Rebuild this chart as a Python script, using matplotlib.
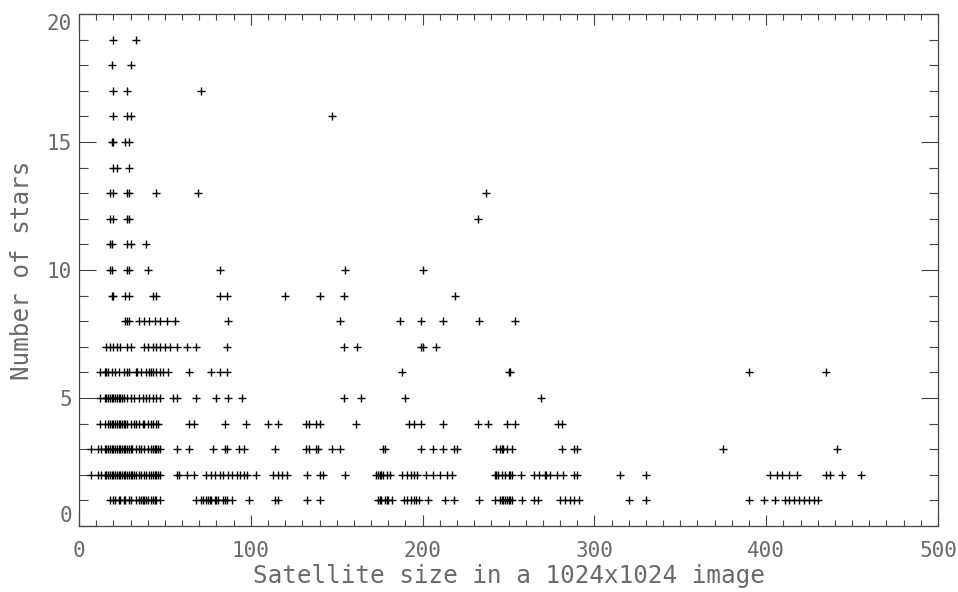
import matplotlib
matplotlib.use("Agg")
import matplotlib.pyplot as plt
import numpy as np

# satellite sizes (pixels) for each number of stars
sizes_n1 = [18, 20, 21, 23, 24, 26, 27, 29, 30, 33, 35, 36, 37, 38, 39, 40, 42, 43, 44,
            45, 47, 68, 71, 72, 74, 75, 76, 77, 79, 80, 81, 84, 85, 86, 89, 99, 114,
            116, 133, 140, 174, 175, 176, 178, 179, 180, 182, 189, 191, 193, 195, 196,
            198, 203, 213, 218, 233, 242, 245, 246, 247, 248, 249, 250, 251, 252, 258,
            265, 267, 280, 283, 286, 288, 291, 320, 330, 390, 399, 405, 411, 413, 416,
            419, 422, 425, 428, 430]
sizes_n2 = [7, 11, 13, 15, 16, 17, 18, 19, 20, 21, 22, 23, 24, 25, 26, 27, 28, 29, 30,
            31, 32, 33, 35, 36, 38, 39, 41, 42, 43, 44, 45, 46, 47, 57, 58, 63, 67,
            74, 77, 79, 82, 84, 87, 89, 92, 94, 96, 98, 103, 113, 116, 118, 121, 133,
            140, 142, 155, 173, 174, 175, 176, 177, 179, 181, 188, 191, 193, 195, 197,
            202, 206, 210, 214, 217, 242, 243, 244, 246, 248, 250, 251, 252, 257, 265,
            268, 271, 272, 274, 278, 282, 288, 290, 315, 330, 402, 406, 409, 413, 418,
            435, 437, 444, 455]
sizes_n3 = [7, 11, 13, 15, 16, 17, 18, 19, 20, 21, 22, 23, 24, 25, 26, 27, 28, 29, 30,
            31, 33, 35, 36, 38, 40, 42, 43, 44, 45, 46, 47, 57, 64, 78, 85, 86, 93, 96,
            114, 132, 134, 138, 139, 147, 152, 177, 178, 199, 206, 212, 218, 220, 243,
            245, 246, 247, 249, 252, 281, 288, 290, 375, 441]
sizes_n4 = [12, 15, 17, 18, 19, 20, 21, 22, 23, 24, 25, 26, 27, 28, 30, 32, 33, 35, 37,
            38, 40, 42, 43, 45, 46, 64, 67, 85, 97, 110, 116, 132, 134, 138, 140, 161,
            192, 195, 199, 212, 232, 238, 249, 254, 279, 281]
sizes_n5 = [12, 15, 16, 17, 18, 19, 20, 21, 22, 23, 24, 25, 26, 28, 30, 32, 35, 37, 39,
            41, 43, 45, 47, 55, 57, 68, 80, 87, 95, 154, 164, 190, 269]
sizes_n6 = [12, 15, 16, 17, 19, 21, 23, 26, 28, 29, 33, 34, 36, 39, 41, 42, 43, 45, 47,
            49, 52, 64, 77, 82, 86, 188, 250, 251, 390, 435]
sizes_n7 = [16, 18, 20, 22, 24, 28, 30, 38, 40, 43, 45, 47, 50, 53, 57, 63, 68, 86,
            154, 162, 199, 200, 208]
sizes_n8 = [27, 28, 29, 35, 38, 41, 44, 47, 51, 56, 87, 152, 187, 199, 212, 233, 254]
sizes_n9 = [19, 20, 27, 29, 43, 45, 82, 86, 120, 140, 154, 219]
sizes_n10 = [18, 19, 28, 29, 40, 82, 155, 200]
sizes_n11 = [18, 19, 28, 30, 39]
sizes_n12 = [18, 20, 28, 29, 232]
sizes_n13 = [18, 20, 28, 29, 45, 69, 237]
sizes_n14 = [20, 22, 29]
sizes_n15 = [19, 20, 27, 29]
sizes_n16 = [20, 28, 30, 147]
sizes_n17 = [20, 28, 71]
sizes_n18 = [19, 30]
sizes_n19 = [20, 33]

star_counts = list(range(1, 20))
size_lists = [sizes_n1, sizes_n2, sizes_n3, sizes_n4, sizes_n5, sizes_n6, sizes_n7,
              sizes_n8, sizes_n9, sizes_n10, sizes_n11, sizes_n12, sizes_n13,
              sizes_n14, sizes_n15, sizes_n16, sizes_n17, sizes_n18, sizes_n19]

x = np.concatenate([np.asarray(s, dtype=float) for s in size_lists])
y = np.concatenate([np.full(len(s), n, dtype=float) for n, s in zip(star_counts, size_lists)])

text_color = "#6a6a6a"
axis_color = "#444444"

plt.rcParams["font.family"] = ["DejaVu Sans Mono"]

fig = plt.figure(figsize=(9.58, 5.92), dpi=100)
ax = fig.add_axes([79 / 958, 1 - 526 / 592, (938 - 79) / 958, (526 - 14) / 592])

ax.plot(x, y, linestyle="none", marker="+", markersize=5.2,
        markeredgewidth=1.0, color="black", antialiased=False)

ax.set_xlim(0, 500)
ax.set_ylim(0, 20)

ax.set_xticks([0, 100, 200, 300, 400, 500])
ax.set_xticks(np.arange(0, 501, 10), minor=True)
ax.set_yticks([0, 5, 10, 15, 20])
ax.set_yticks(np.arange(0, 21, 1), minor=True)

ax.tick_params(which="both", direction="in", top=True, right=True,
               color=axis_color, width=0.8, labelcolor=text_color, labelsize=15)
ax.tick_params(axis="x", which="major", length=8, pad=11)
ax.tick_params(axis="x", which="minor", length=4)
ax.tick_params(axis="y", which="major", length=12.5, pad=5)
ax.tick_params(axis="y", which="minor", length=6.5)

for spine in ax.spines.values():
    spine.set_color(axis_color)
    spine.set_linewidth(0.9)

fig.canvas.draw()
ylabels = ax.get_yticklabels()
ylabels[0].set_verticalalignment("bottom")
ylabels[-1].set_verticalalignment("top")

ax.set_xlabel("Satellite size in a 1024x1024 image", fontsize=17.5, color=text_color,
              labelpad=2)
ax.set_ylabel("Number of stars", fontsize=17.5, color=text_color, labelpad=9)

fig.savefig("out.png", dpi=100)
